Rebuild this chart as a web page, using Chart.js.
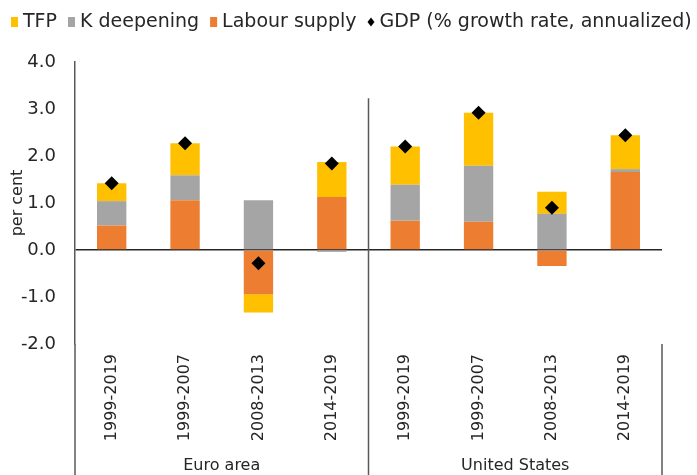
<!DOCTYPE html>
<html>
<head>
<meta charset="utf-8">
<script src="https://cdn.jsdelivr.net/npm/chart.js@4.4.1/dist/chart.umd.min.js"></script>
<style>
  html, body { margin: 0; padding: 0; background: #fff; }
</style>
</head>
<body>
<canvas id="growth" width="697" height="475"></canvas>
<script>
const periods = ['1999-2019', '1999-2007', '2008-2013', '2014-2019',
                 '1999-2019', '1999-2007', '2008-2013', '2014-2019'];
const regions = ['Euro area', 'United States'];
const labourSupply = [0.52, 1.06, -0.94, 1.13, 0.62, 0.60, -0.34, 1.66];
const kDeepening   = [0.52, 0.53, 1.06, -0.04, 0.77, 1.19, 0.77, 0.06];
const tfp          = [0.38, 0.68, -0.39, 0.74, 0.81, 1.13, 0.47, 0.72];
const gdp          = [1.42, 2.27, -0.28, 1.84, 2.20, 2.92, 0.90, 2.44];

const textColor = '#262626';
const lineColor = '#595959';
Chart.defaults.font.family = '"DejaVu Sans", Verdana, sans-serif';
Chart.defaults.color = textColor;

// legend drawn by hand: TFP, K deepening, Labour supply, GDP
const legendOrder = [2, 1, 0, 3];
const topLegend = {
  id: 'topLegend',
  afterDraw(chart) {
    const ctx = chart.ctx;
    const y = 22;
    let x = 11;
    ctx.save();
    ctx.font = '19px "DejaVu Sans"';
    ctx.textBaseline = 'middle';
    legendOrder.forEach(i => {
      const ds = chart.data.datasets[i];
      if (ds.type === 'line') {
        ctx.fillStyle = '#000';
        ctx.beginPath();
        ctx.moveTo(x + 3.5, y - 4.5);
        ctx.lineTo(x + 7, y);
        ctx.lineTo(x + 3.5, y + 4.5);
        ctx.lineTo(x, y);
        ctx.closePath();
        ctx.fill();
        x += 12;
      } else {
        ctx.fillStyle = ds.backgroundColor;
        ctx.fillRect(x, y - 5, 7, 10);
        x += 12;
      }
      ctx.fillStyle = textColor;
      ctx.fillText(ds.label, x, y);
      x += ctx.measureText(ds.label).width + 11;
    });
    ctx.restore();
  }
};

// group separators in the plot and under the category labels
const separators = {
  id: 'separators',
  afterDraw(chart) {
    const ctx = chart.ctx;
    const area = chart.chartArea;
    const xs = chart.scales.x, ys = chart.scales.y;
    const mid = (xs.getPixelForValue(3) + xs.getPixelForValue(4)) / 2;
    ctx.save();
    ctx.strokeStyle = lineColor;
    ctx.lineWidth = 1.5;
    ctx.beginPath();
    ctx.moveTo(area.left, area.bottom);
    ctx.lineTo(area.left, chart.height);
    ctx.moveTo(mid, ys.getPixelForValue(3.23));
    ctx.lineTo(mid, chart.height);
    ctx.moveTo(area.right, area.bottom);
    ctx.lineTo(area.right, chart.height);
    ctx.stroke();
    ctx.restore();
  }
};

new Chart(document.getElementById('growth'), {
  type: 'bar',
  data: {
    labels: periods,
    datasets: [
      { label: 'Labour supply', data: labourSupply, backgroundColor: '#ED7D31', order: 1 },
      { label: 'K deepening', data: kDeepening, backgroundColor: '#A5A5A5', order: 1 },
      { label: 'TFP', data: tfp, backgroundColor: '#FFC000', order: 1 },
      {
        type: 'line', label: 'GDP (% growth rate, annualized)', data: gdp,
        showLine: false, pointStyle: 'rectRot', pointRadius: 7,
        backgroundColor: '#000', borderColor: '#000', borderWidth: 0, order: 0
      }
    ]
  },
  options: {
    responsive: false,
    animation: false,
    categoryPercentage: 1,
    barPercentage: 0.4,
    layout: { padding: { top: 62, right: 35, left: 0, bottom: 0 } },
    plugins: { legend: { display: false }, tooltip: { enabled: false } },
    scales: {
      x: {
        stacked: true,
        weight: 0,
        grid: { display: false, drawTicks: false },
        border: { display: false },
        ticks: { minRotation: 90, maxRotation: 90, padding: 10, font: { size: 16 }, autoSkip: false },
        afterFit(scale) { scale.height = 97; }
      },
      x2: {
        type: 'category',
        labels: regions,
        offset: true,
        position: 'bottom',
        weight: 1,
        grid: { display: false, drawTicks: false },
        border: { display: false },
        ticks: { padding: 15, font: { size: 16 } },
        afterFit(scale) { scale.height = 34; }
      },
      y: {
        stacked: true,
        min: -2,
        max: 4,
        ticks: { stepSize: 1, padding: 19, font: { size: 18 }, callback: v => v.toFixed(1) },
        grid: {
          drawTicks: false,
          lineWidth: 1.5,
          color: c => (c.tick && c.tick.value === 0 ? '#262626' : 'rgba(0,0,0,0)')
        },
        border: { display: true, color: lineColor, width: 1.5 },
        title: { display: true, text: 'per cent', font: { size: 16 }, padding: { top: 8, bottom: 0 } },
        afterFit(scale) { scale.width = 75; }
      }
    }
  },
  plugins: [topLegend, separators]
});
</script>
</body>
</html>
